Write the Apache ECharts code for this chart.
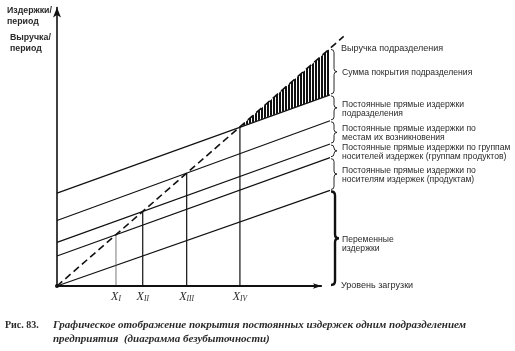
<!DOCTYPE html>
<html>
<head>
<meta charset="utf-8">
<script src="https://cdn.jsdelivr.net/npm/echarts@6/dist/echarts.min.js"></script>
<style>
  html, body { margin: 0; padding: 0; background: #fff; }
  #chart { width: 515px; height: 351px; }
</style>
</head>
<body>
<div id="chart"></div>
<script>
(function() {
  var ink = '#111';
  var textInk = '#2a2a2a';
  var sans = '"Liberation Sans", Arial, sans-serif';
  var serif = '"Liberation Serif", "Times New Roman", serif';

  // revenue line (dashed), from zero load up past the right edge
  var revenueX = [0, 100, 105];
  var revenueY = [0, 87, 91.4];

  // cost lines, top to bottom: total fixed+variable ... variable only
  var costStart = [34, 24, 16, 11, 0];
  var costEnd = [70, 60.5, 52, 47, 35];
  var lineEndX = 100;

  // break-even points X_I .. X_IV
  var breakEvenX = [21.6, 31.4, 47.5, 67];
  var breakEvenY = [18.8, 27.3, 41.3, 58.3];
  var breakEvenNames = ['I', 'II', 'III', 'IV'];

  // brace levels at the right edge and their labels
  var braceLevels = [87, 70, 60.5, 52, 47, 35, 0];
  var braceLabels = [
    'Сумма покрытия подразделения',
    'Постоянные прямые издержки\nподразделения',
    'Постоянные прямые издержки по\nместам их возникновения',
    'Постоянные прямые издержки по группам\nносителей издержек (группам продуктов)',
    'Постоянные прямые издержки по\nносителям издержек (продуктам)',
    'Переменные\nиздержки'
  ];
  var revenueLabel = 'Выручка подразделения';
  var loadLabel = 'Уровень загрузки';

  var chart = echarts.init(document.getElementById('chart'));

  // vertical hatch pattern for the coverage area
  var pat = document.createElement('canvas');
  pat.width = 3; pat.height = 4;
  var pctx = pat.getContext('2d');
  pctx.fillStyle = '#111';
  pctx.fillRect(0, 0, 2, 4);

  var series = [];

  series.push({
    type: 'custom',
    name: 'hatch',
    silent: true,
    clip: false,
    z: 3,
    data: [[breakEvenX[3], breakEvenY[3], lineEndX, revenueY[1], costEnd[0]]],
    renderItem: function(params, api) {
      var a = api.coord([api.value(0), api.value(1)]);
      var b = api.coord([api.value(2), api.value(3)]);
      var c = api.coord([api.value(2), api.value(4)]);
      return {
        type: 'polygon',
        shape: { points: [a, b, c] },
        style: { fill: { image: pat, repeat: 'repeat' }, stroke: null }
      };
    }
  });

  series.push({
    type: 'line',
    name: 'revenue',
    data: revenueX.map(function(x, i) { return [x, revenueY[i]]; }),
    showSymbol: false,
    clip: false,
    z: 4,
    lineStyle: { color: ink, width: 1.6, type: [7, 4] }
  });

  costStart.forEach(function(v, i) {
    series.push({
      type: 'line',
      name: 'cost' + i,
      data: [[0, v], [lineEndX, costEnd[i]]],
      showSymbol: false,
      clip: false,
      lineStyle: { color: ink, width: 1.2 }
    });
  });

  breakEvenX.forEach(function(x, i) {
    series.push({
      type: 'line',
      name: 'x' + breakEvenNames[i],
      data: [[x, 0], [x, breakEvenY[i]]],
      showSymbol: false,
      lineStyle: { color: i === 0 ? '#555' : ink, width: i === 0 ? 0.8 : 1.2 }
    });
  });

  // braces with their labels
  var braceData = [];
  for (var k = 0; k < braceLabels.length; k++) {
    braceData.push([lineEndX, braceLevels[k], braceLevels[k + 1], k]);
  }
  series.push({
    type: 'custom',
    name: 'braces',
    silent: true,
    clip: false,
    data: braceData,
    renderItem: function(params, api) {
      var p1 = api.coord([api.value(0), api.value(1)]);
      var p2 = api.coord([api.value(0), api.value(2)]);
      var idx = api.value(3);
      var big = idx === braceLabels.length - 1;
      var x0 = p1[0] + 1, y1 = p1[1] + 1, y2 = p2[1] - 1;
      var w = big ? 8 : 6, q = w / 2, ym = (y1 + y2) / 2;
      var r = Math.min(q, (y2 - y1) / 4);
      var d = 'M' + x0 + ' ' + y1 +
        ' Q' + (x0 + q) + ' ' + y1 + ' ' + (x0 + q) + ' ' + (y1 + r) +
        ' L' + (x0 + q) + ' ' + (ym - r) +
        ' Q' + (x0 + q) + ' ' + ym + ' ' + (x0 + w) + ' ' + ym +
        ' Q' + (x0 + q) + ' ' + ym + ' ' + (x0 + q) + ' ' + (ym + r) +
        ' L' + (x0 + q) + ' ' + (y2 - r) +
        ' Q' + (x0 + q) + ' ' + y2 + ' ' + x0 + ' ' + y2;
      return {
        type: 'group',
        children: [{
          type: 'path',
          shape: { pathData: d },
          style: { fill: null, stroke: ink, lineWidth: big ? 2.4 : 0.9 }
        }, {
          type: 'text',
          style: {
            text: braceLabels[idx],
            x: x0 + 11,
            y: big ? ym + 6 : ym + 1,
            verticalAlign: 'middle',
            font: '8.6px ' + sans,
            lineHeight: 9,
            fill: textInk
          }
        }]
      };
    }
  });

  series.push({
    type: 'custom',
    name: 'endLabels',
    silent: true,
    clip: false,
    data: [[lineEndX, revenueY[1], 0], [lineEndX, 0, 1]],
    renderItem: function(params, api) {
      var p = api.coord([api.value(0), api.value(1)]);
      return {
        type: 'text',
        style: {
          text: api.value(2) === 0 ? revenueLabel : loadLabel,
          x: p[0] + 11,
          y: p[1],
          verticalAlign: 'middle',
          font: '9px ' + sans,
          fill: textInk
        }
      };
    }
  });

  // x axis arrow
  series.push({
    type: 'line',
    name: 'xaxis',
    data: [],
    markLine: {
      silent: true,
      symbol: ['circle', 'arrow'],
      symbolSize: [4, 9],
      label: { show: false },
      lineStyle: { color: ink, width: 2, type: 'solid' },
      data: [[{ coord: [0, 0] }, { coord: [97, 0] }]]
    }
  });

  chart.setOption({
    animation: false,
    title: [
      {
        text: 'Издержки/\nпериод',
        left: 7, top: 5, padding: 0,
        textStyle: { fontFamily: sans, fontSize: 8.8, fontWeight: 'bold', color: textInk, lineHeight: 11 }
      },
      {
        text: 'Выручка/\nпериод',
        left: 10, top: 32, padding: 0,
        textStyle: { fontFamily: sans, fontSize: 8.8, fontWeight: 'bold', color: textInk, lineHeight: 11 }
      },
      {
        text: '{b|Рис. 83.}{i|Графическое отображение покрытия постоянных издержек одним подразделением}\n' +
              '{b|}{i|предприятия  (диаграмма безубыточности)}',
        left: 5, top: 318, padding: 0,
        textStyle: {
          rich: {
            b: { fontFamily: serif, fontWeight: 'bold', fontSize: 10, color: textInk, width: 48, lineHeight: 14 },
            i: { fontFamily: serif, fontStyle: 'italic', fontSize: 11, color: textInk, lineHeight: 14 }
          }
        }
      }
    ],
    grid: { left: 57, bottom: 65, width: 289.4, height: 278.5, containLabel: false },
    xAxis: {
      type: 'value',
      min: 0, max: 106,
      axisLine: { show: false },
      axisTick: { show: false },
      splitLine: { show: false },
      axisLabel: {
        customValues: breakEvenX,
        margin: 5,
        formatter: function(v) {
          var i = breakEvenX.indexOf(v);
          return i < 0 ? '' : '{x|X}{s|' + breakEvenNames[i] + '}';
        },
        rich: {
          x: { fontFamily: serif, fontStyle: 'italic', fontSize: 12, color: textInk },
          s: { fontFamily: serif, fontStyle: 'italic', fontSize: 7.5, color: textInk, padding: [4, 0, 0, 0] }
        }
      }
    },
    yAxis: {
      type: 'value',
      min: 0, max: 102,
      axisLine: { show: true, symbol: ['none', 'arrow'], symbolSize: [6, 10], lineStyle: { color: ink, width: 1.6 } },
      axisTick: { show: false },
      axisLabel: { show: false },
      splitLine: { show: false }
    },
    series: series
  });
})();
</script>
</body>
</html>
